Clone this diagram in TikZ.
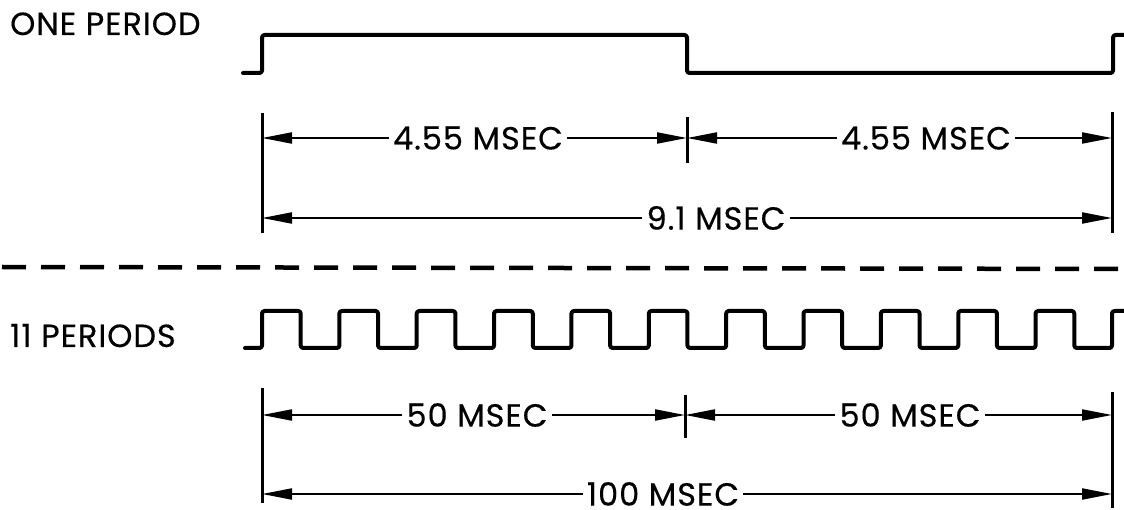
\documentclass[tikz,border=0pt]{standalone}
\usepackage{fontspec}
\setmainfont{Poppins}[LetterSpace=3, FakeBold=0.4]
\usetikzlibrary{arrows.meta}
\begin{document}
\begin{tikzpicture}[x=1pt,y=-1pt,
  wave/.style={line width=4pt, rounded corners=2.5pt, line cap=round, line join=round},
  dimline/.style={line width=2pt},
  tickline/.style={line width=3pt},
  arr/.style={dimline, -{Triangle[length=30pt,width=11pt]}},
  lbl/.style={font=\fontsize{32}{34}\selectfont, inner sep=0pt},
  dimlbl/.style={font=\fontsize{32}{34}\selectfont, inner xsep=4pt, inner ysep=0pt},
  sep/.style={line width=4.5pt, dash pattern=on 24pt off 15pt}]
\useasboundingbox (0,0) rectangle (1124,510);

% titles
\node[lbl, anchor=base west] (one) at (10,35) {ONE PERIOD};
\node[lbl, anchor=base west] (eleven) at (10,347) {11 PERIODS};

% top waveform
\draw[wave] (243,73) -- (262,73) -- (262,35) -- (687,35) -- (687,73) -- (1113,73) -- (1113,35) -- (1126,35);

% top ticks
\draw[tickline] (262,113) -- (262,233);
\draw[tickline] (687,117) -- (687,163);
\draw[tickline] (1112,112) -- (1112,233);

\coordinate (tA) at (262,138);
\coordinate (tM1) at (687,138);
\coordinate (tM2) at (687,138);
\coordinate (tB) at (1112,138);
\coordinate (tC) at (262,218);
\coordinate (tD) at (1112,218);

\node[dimlbl] (t1) at (478,138) {4.55 MSEC};
\node[dimlbl] (t2) at (926,138) {4.55 MSEC};
\node[dimlbl] (t3) at (716,218) {9.1 MSEC};

\draw[arr] (t1.west) -- (tA);
\draw[arr] (t1.east) -- (tM1);
\draw[arr] (t2.west) -- (tM2);
\draw[arr] (t2.east) -- (tB);
\draw[arr] (t3.west) -- (tC);
\draw[arr] (t3.east) -- (tD);

% separator
\draw[sep] (2,267) -- (1124,269);

% bottom waveform
\draw[wave] (245,348)
  \foreach \k in {0,...,10} {
    -- ({262+\k*77.36},348) -- ({262+\k*77.36},311)
    -- ({262+\k*77.36+38.68},311) -- ({262+\k*77.36+38.68},348)
  } -- (1112,348) -- (1112,311) -- (1126,311);

% bottom ticks
\draw[tickline] (262,388) -- (262,503);
\draw[tickline] (685,395) -- (685,438);
\draw[tickline] (1112,392) -- (1112,508);

\coordinate (bA) at (262,415);
\coordinate (bM1) at (685,415);
\coordinate (bM2) at (685,415);
\coordinate (bB) at (1112,415);
\coordinate (bC) at (262,494);
\coordinate (bD) at (1112,494);

\node[dimlbl] (b1) at (477,415) {50 MSEC};
\node[dimlbl] (b2) at (910,415) {50 MSEC};
\node[dimlbl] (b3) at (663,494) {100 MSEC};

\draw[arr] (b1.west) -- (bA);
\draw[arr] (b1.east) -- (bM1);
\draw[arr] (b2.west) -- (bM2);
\draw[arr] (b2.east) -- (bB);
\draw[arr] (b3.west) -- (bC);
\draw[arr] (b3.east) -- (bD);
\end{tikzpicture}
\end{document}
